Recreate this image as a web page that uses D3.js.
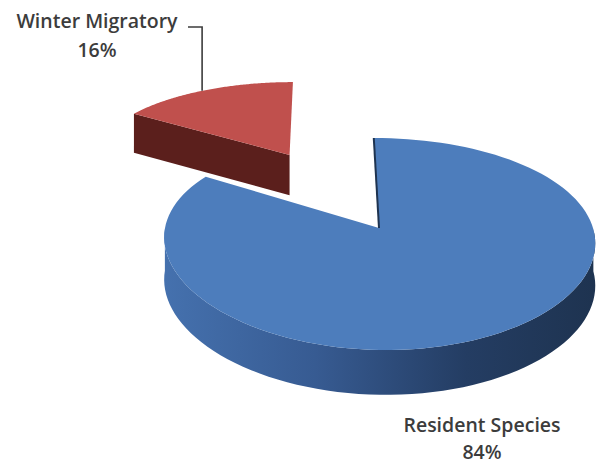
<!DOCTYPE html>
<html>
<head>
<meta charset="utf-8">
<script src="https://cdn.jsdelivr.net/npm/d3@7"></script>
<style>
	body { margin: 0; background: #fff; }
	svg { display: block; }
	text { font-family: "Open Sans", "Noto Sans", sans-serif; fill: #3c3c3c; }
</style>
</head>
<body>
<div id="chartsArea"></div>
<script>
var categories = ["Resident Species", "Winter Migratory"];
var values = [84, 16];
var percentLabels = ["84%", "16%"];
var exploded = [0, 0.9];

var topColors = ["#4d7dbc", "#c0504d"];
var sideColors = ["#2f5283", "#5b1f1c"];

/**
 * Simple 3D look: pie lies flat, points further back get smaller.
 * u = sin(angle), v = cos(angle) in pie units, angle clockwise from 12 o'clock.
 */
var getDimensions = function() {
	return {
		width: 598,
		height: 465,
		cx: 379,
		cy: 228,
		rx: 214,
		ry: 103.6,
		depth: 42,
		persp: 0.151,
		xpersp: 0.035,
		shear: -6
	};
};

var makeProjection = function(dim) {
	return function(u, v, bottom) {
		var s = 1 / (1 + dim.persp * v);
		var sx = s * (1 + dim.xpersp * v);
		var x = dim.cx + dim.rx * u * sx + dim.shear * v * s;
		var y = dim.cy - dim.ry * v * s + (bottom ? dim.depth * Math.pow(s, 0.4) : 0);
		return [x, y];
	};
};

var makeGraph = function(svg, dim) {
	var proj = makeProjection(dim);

	var pie = d3.pie().sort(null).startAngle(0).endAngle(2 * Math.PI);
	var arcs = pie(values);

	var defs = svg.append("defs");
	var grad = defs.append("linearGradient")
		.attr("id", "sideBlue")
		.attr("x1", "0%").attr("x2", "100%")
		.attr("y1", "0%").attr("y2", "0%");
	grad.append("stop").attr("offset", "0%").attr("stop-color", "#4571ae");
	grad.append("stop").attr("offset", "35%").attr("stop-color", "#375b92");
	grad.append("stop").attr("offset", "70%").attr("stop-color", "#243d63");
	grad.append("stop").attr("offset", "100%").attr("stop-color", "#1e3350");

	var offsetOf = function(a, i) {
		var mid = (a.startAngle + a.endAngle) / 2;
		return [Math.sin(mid) * exploded[i], Math.cos(mid) * exploded[i]];
	};

	var pointAt = function(off, ang, r, bottom) {
		return proj(off[0] + r * Math.sin(ang), off[1] + r * Math.cos(ang), bottom);
	};

	var line = d3.line();
	var steps = 120;

	// red sits behind the big slice, so draw it first
	var order = [1, 0];

	order.forEach(function(i) {
		var a = arcs[i];
		var off = offsetOf(a, i);
		var g = svg.append("g").attr("class", "slice");

		// radial cut faces, only the one that faces us
		[a.startAngle, a.endAngle].forEach(function(ang, k) {
			var ny = k === 0 ? Math.sin(ang) : -Math.sin(ang);
			if (ny < -0.05) {
				var pts = [
					pointAt(off, ang, 0, false),
					pointAt(off, ang, 1, false),
					pointAt(off, ang, 1, true),
					pointAt(off, ang, 0, true)
				];
				g.append("path")
					.attr("d", line(pts) + "Z")
					.attr("fill", sideColors[i]);
			}
		});

		// outer rim, front half only
		var front = [];
		for (var j = 0; j <= steps; ++j) {
			var ang = a.startAngle + (a.endAngle - a.startAngle) * j / steps;
			if (Math.cos(ang) < 0.02) front.push(ang);
		}
		if (front.length > 1) {
			var rim = front.map(function(t) { return pointAt(off, t, 1, false); })
				.concat(front.slice().reverse().map(function(t) { return pointAt(off, t, 1, true); }));
			g.append("path")
				.attr("d", line(rim) + "Z")
				.attr("fill", i === 0 ? "url(#sideBlue)" : sideColors[i]);
		}

		// top face
		var topPts = [pointAt(off, a.startAngle, 0, false)];
		for (var m = 0; m <= steps; ++m) {
			topPts.push(pointAt(off, a.startAngle + (a.endAngle - a.startAngle) * m / steps, 1, false));
		}
		g.append("path")
			.attr("d", line(topPts) + "Z")
			.attr("fill", topColors[i]);

		if (i === 0) {
			// thin dark edge along the 12 o'clock cut
			var e0 = pointAt(off, a.startAngle, 0, false), e1 = pointAt(off, a.startAngle, 1, false);
			g.append("path")
				.attr("d", line([e0, e1]))
				.attr("stroke", "#1e3350")
				.attr("stroke-width", 2)
				.attr("fill", "none");
		}
	});

	// leader line for the small slice
	var red = arcs[1];
	var redOff = offsetOf(red, 1);
	var anchor = pointAt(redOff, (red.startAngle + red.endAngle) / 2 - 0.02, 1, false);
	var labelY = 27;

	svg.append("path")
		.attr("d", line([[anchor[0], anchor[1]], [anchor[0], labelY], [188, labelY]]))
		.attr("stroke", "#3c3c3c")
		.attr("stroke-width", 1.6)
		.attr("fill", "none");

	var labels = [
		{x: 482, y: 432, dy: 27, i: 0},
		{x: 97, y: 28, dy: 29, i: 1}
	];
	labels.forEach(function(l) {
		[categories[l.i], percentLabels[l.i]].forEach(function(str, k) {
			svg.append("text")
				.attr("x", l.x)
				.attr("y", l.y + k * l.dy)
				.attr("text-anchor", "middle")
				.attr("font-size", 19.5)
				.attr("font-weight", 600)
				.text(str);
		});
	});
};

var dim = getDimensions();
var svg = d3.select("#chartsArea").append("svg")
	.attr("width", dim.width)
	.attr("height", dim.height);
makeGraph(svg, dim);
</script>
</body>
</html>
